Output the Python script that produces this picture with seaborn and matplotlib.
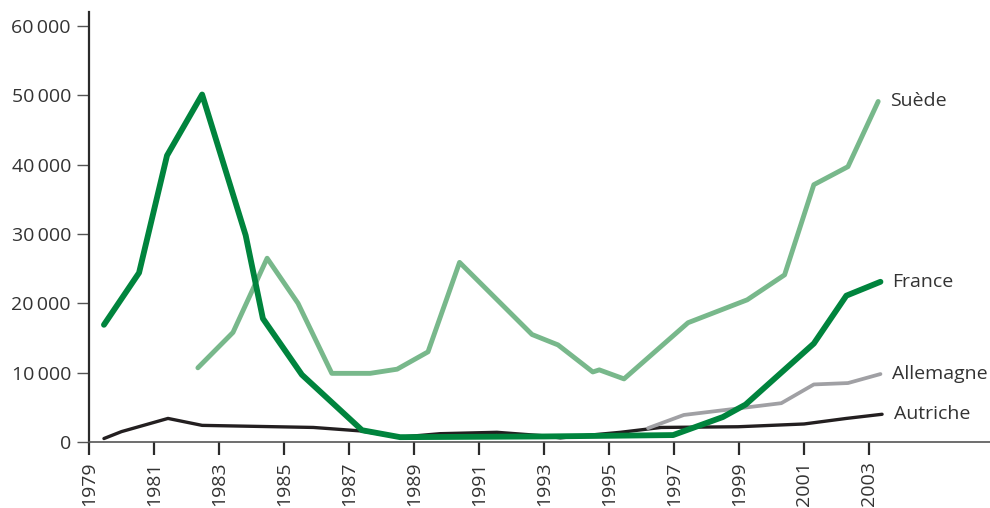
import numpy as np
import pandas as pd
import matplotlib
matplotlib.use('Agg')
import matplotlib.pyplot as plt
import seaborn as sns

# values (x = position in years, y = number)
france_x = [1979.46, 1980.54, 1981.4, 1982.48, 1983.82, 1984.35, 1985.55, 1987.4,
            1988.57, 1993.0, 1996.97, 1998.5, 1999.2, 2001.3, 2002.3, 2003.35]
france_y = [16900, 24400, 41300, 50100, 29800, 17800, 9700, 1700,
            700, 800, 1000, 3600, 5400, 14200, 21100, 23100]

suede_x = [1982.35, 1983.43, 1984.48, 1985.43, 1986.47, 1987.65, 1988.48, 1989.43,
           1990.4, 1992.63, 1993.43, 1994.5, 1994.7, 1995.46, 1997.43, 1999.25,
           2000.4, 2001.3, 2002.35, 2003.28]
suede_y = [10700, 15800, 26500, 20000, 9900, 9900, 10500, 13000,
           25900, 15500, 14000, 10100, 10400, 9100, 17200, 20500,
           24100, 37100, 39700, 49100]

allemagne_x = [1996.2, 1997.3, 1999.25, 2000.3, 2001.3, 2002.35, 2003.35]
allemagne_y = [2000, 3900, 5000, 5600, 8300, 8500, 9800]

autriche_x = [1979.46, 1980.0, 1981.43, 1982.48, 1985.9, 1987.35, 1988.57, 1989.8,
              1991.55, 1992.97, 1993.5, 1995.35, 1996.6, 1998.97, 2001.0, 2002.3, 2003.4]
autriche_y = [500, 1500, 3400, 2400, 2100, 1600, 700, 1200,
              1400, 900, 600, 1400, 2100, 2200, 2600, 3400, 4000]

series = [
    ('Autriche', autriche_x, autriche_y, '#231f20', 2.4),
    ('Allemagne', allemagne_x, allemagne_y, '#a0a0a4', 2.7),
    ('Suède', suede_x, suede_y, '#78b88b', 3.5),
    ('France', france_x, france_y, '#00843d', 4.2),
]

sns.set_style('white')
plt.rcParams['font.family'] = ['Open Sans', 'DejaVu Sans']

fig = plt.figure(figsize=(9.9, 5.08), dpi=100)
ax = fig.add_axes([0.0899, 0.1299, 0.9101, 0.8465])

text_col = '#333333'
for name, xs, ys, col, lw in series:
    df = pd.DataFrame({'annee': xs, 'valeur': ys})
    sns.lineplot(data=df, x='annee', y='valeur', color=col, linewidth=lw,
                 estimator=None, sort=True, ax=ax)
    ax.annotate(name, xy=(xs[-1], ys[-1]), xytext=(8.5, 0), textcoords='offset points',
                va='center', ha='left', fontsize=14, color=text_col)

ax.set_xlim(1979, 2006.72)
ax.set_ylim(0, 62000)
ax.set_xticks(np.arange(1979, 2004, 2))
ax.set_xticklabels([str(y) for y in range(1979, 2004, 2)], rotation=90)
ax.set_yticks(np.arange(0, 60001, 10000))
ax.set_yticklabels(['0'] + [f'{v // 1000}\u2009000' for v in range(10000, 60001, 10000)])
ax.set_xlabel('')
ax.set_ylabel('')

for side in ['top', 'right']:
    ax.spines[side].set_visible(False)
ax.spines['left'].set_color('#2b2b2b')
ax.spines['left'].set_linewidth(1.6)
ax.spines['bottom'].set_color('#555555')
ax.spines['bottom'].set_linewidth(1.2)
ax.tick_params(axis='y', direction='out', length=9, width=1.0, color='#555555',
               labelsize=14, labelcolor=text_col, pad=4, left=True)
ax.tick_params(axis='x', direction='out', length=9, width=1.6, color='#2b2b2b',
               labelsize=14, labelcolor=text_col, pad=5, bottom=True)

fig.savefig('out.png', dpi=100)
